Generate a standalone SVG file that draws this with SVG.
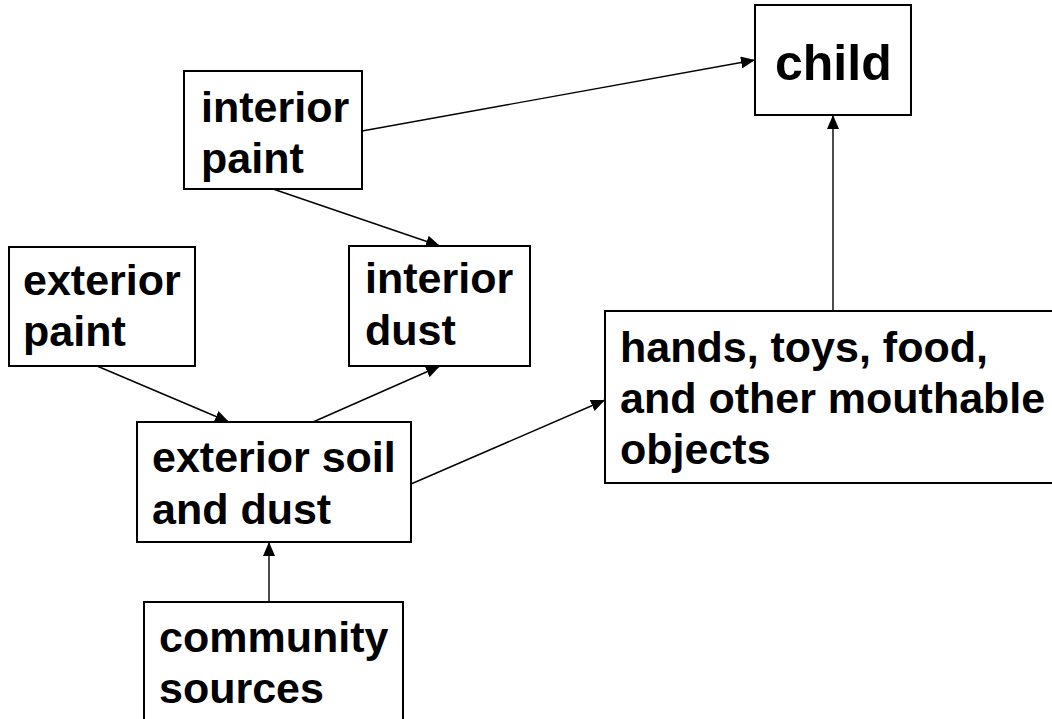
<svg xmlns="http://www.w3.org/2000/svg" width="1052" height="719" viewBox="0 0 1052 719">
<style>
.box{fill:#fff;stroke:#000;stroke-width:2}
.t{font-family:"Liberation Sans",Arial,sans-serif;font-weight:bold;font-size:43px;fill:#000}
.big{font-size:50px}
.c{stroke:#000;stroke-width:1.4;fill:none;marker-end:url(#ah)}
</style>
<defs>
<marker id="ah" markerUnits="userSpaceOnUse" markerWidth="15" markerHeight="12" refX="14" refY="6" orient="auto">
<path d="M0,0 L14,6 L0,12 z" fill="#000"/>
</marker>
</defs>
<rect width="1052" height="719" fill="#fff"/>
<g id="connectors">
<line class="c" x1="362" y1="131" x2="755" y2="60"/>
<line class="c" x1="273" y1="189" x2="440" y2="246"/>
<line class="c" x1="97" y1="366" x2="229" y2="422"/>
<line class="c" x1="313" y1="422" x2="440" y2="366"/>
<line class="c" x1="411" y1="484" x2="605" y2="400"/>
<line class="c" x1="833" y1="311" x2="833" y2="115"/>
<line class="c" x1="269" y1="602" x2="269" y2="542"/>
</g>
<g id="child">
<rect class="box" x="755" y="5" width="156" height="110"/>
<text class="t big" x="775" y="80">child</text>
</g>
<g id="interior-paint">
<rect class="box" x="184" y="71" width="178" height="118"/>
<text class="t" x="201" y="122">interior</text>
<text class="t" x="201" y="173">paint</text>
</g>
<g id="exterior-paint">
<rect class="box" x="9" y="247" width="186" height="119"/>
<text class="t" x="23" y="295">exterior</text>
<text class="t" x="23" y="346">paint</text>
</g>
<g id="interior-dust">
<rect class="box" x="349" y="246" width="181" height="120"/>
<text class="t" x="365" y="293">interior</text>
<text class="t" x="365" y="345">dust</text>
</g>
<g id="exterior-soil">
<rect class="box" x="137" y="422" width="274" height="120"/>
<text class="t" x="152" y="472">exterior soil</text>
<text class="t" x="152" y="524">and dust</text>
</g>
<g id="community-sources">
<rect class="box" x="144" y="602" width="259" height="140"/>
<text class="t" x="159" y="652">community</text>
<text class="t" x="159" y="703">sources</text>
</g>
<g id="hands">
<rect class="box" x="605" y="311" width="460" height="172"/>
<text class="t" x="620" y="362">hands, toys, food,</text>
<text class="t" x="620" y="413">and other mouthable</text>
<text class="t" x="620" y="464">objects</text>
</g>
</svg>
